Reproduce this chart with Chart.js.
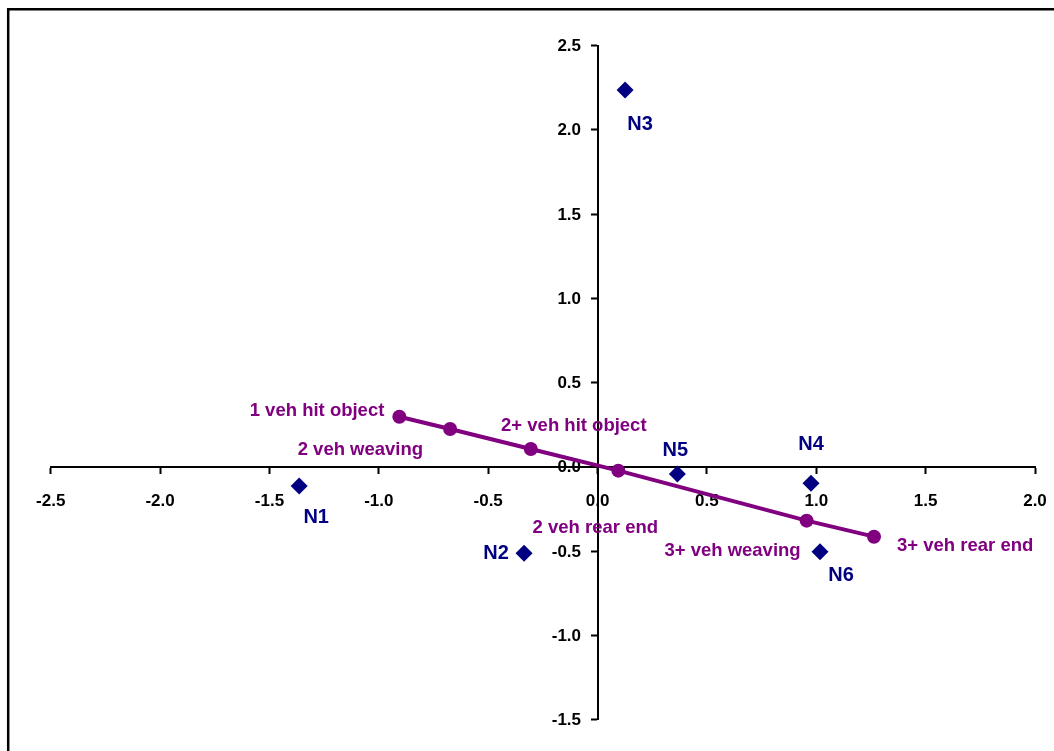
<!DOCTYPE html>
<html>
<head>
<meta charset="utf-8">
<script src="https://cdn.jsdelivr.net/npm/chart.js@4/dist/chart.umd.min.js"></script>
<style>
  html, body { margin: 0; padding: 0; background: #fff; }
  #wrap { width: 1054px; height: 751px; }
</style>
</head>
<body>
<div id="wrap"><canvas id="c" width="1054" height="751"></canvas></div>
<script>
// ---- data ----
const nodeNames = ['N1', 'N2', 'N3', 'N4', 'N5', 'N6'];
const nodeX = [-1.364, -0.336, 0.126, 0.976, 0.365, 1.017];
const nodeY = [-0.114, -0.514, 2.236, -0.098, -0.043, -0.504];

const crashTypes = ['1 veh hit object', '2 veh weaving', '2+ veh hit object', '2 veh rear end', '3+ veh weaving', '3+ veh rear end'];
const crashX = [-0.906, -0.674, -0.305, 0.095, 0.956, 1.264];
const crashY = [0.297, 0.224, 0.105, -0.023, -0.320, -0.415];

const xMin = -2.5, xMax = 2.0, yMin = -1.5, yMax = 2.5, tickStep = 0.5;

// ---- label placement styles (offsets from marker, px) ----
const nodeLabelStyle = [
  { dx: 17, dy: 32, align: 'center' },
  { dx: -28, dy: 0, align: 'center' },
  { dx: 15, dy: 35, align: 'center' },
  { dx: 0, dy: -39, align: 'center' },
  { dx: -2, dy: -24, align: 'center' },
  { dx: 21, dy: 24, align: 'center' }
];
const crashLabelStyle = [
  { dx: -15, dy: -6, align: 'right' },
  { dx: -27, dy: 21, align: 'right' },
  { dx: 43, dy: -23, align: 'center' },
  { dx: -23, dy: 57, align: 'center' },
  { dx: -6, dy: 30, align: 'right' },
  { dx: 23, dy: 9, align: 'left' }
];

const NAVY = '#000080';
const PURPLE = '#800080';
const FONT = '"Liberation Sans", Arial, Helvetica, sans-serif';
const TICK_FONT = 'bold 17px ' + FONT;

const nodePoints = nodeX.map((x, i) => ({ x: x, y: nodeY[i] }));
const crashPoints = crashX.map((x, i) => ({ x: x, y: crashY[i] }));

const fmt = v => Number(v).toFixed(1);

// y tick labels placed to the left of the centred y axis (tick length + padding)
const yLabelPlugin = {
  id: 'yLabels',
  beforeDatasetsDraw(chart) {
    const ys = chart.scales.y, xs = chart.scales.x;
    const ctx = chart.ctx;
    const axisX = xs.getPixelForValue(0);
    ctx.save();
    ctx.font = TICK_FONT;
    ctx.fillStyle = '#000';
    ctx.textAlign = 'right';
    ctx.textBaseline = 'middle';
    ys.ticks.forEach(t => {
      ctx.fillText(fmt(t.value), axisX - 16.5, ys.getPixelForValue(t.value) + 1);
    });
    ctx.restore();
  }
};

const labelPlugin = {
  id: 'pointLabels',
  afterDatasetsDraw(chart) {
    const ctx = chart.ctx;
    const sets = [
      { idx: 0, names: nodeNames, style: nodeLabelStyle, color: NAVY, font: 'bold 20px ' + FONT },
      { idx: 1, names: crashTypes, style: crashLabelStyle, color: PURPLE, font: 'bold 18.5px ' + FONT }
    ];
    ctx.save();
    sets.forEach(s => {
      const meta = chart.getDatasetMeta(s.idx);
      ctx.font = s.font;
      ctx.fillStyle = s.color;
      ctx.textBaseline = 'middle';
      meta.data.forEach((el, i) => {
        const st = s.style[i];
        ctx.textAlign = st.align;
        ctx.fillText(s.names[i], el.x + st.dx, el.y + st.dy);
      });
    });
    ctx.restore();
  }
};

const framePlugin = {
  id: 'frame',
  beforeDraw(chart) {
    const ctx = chart.ctx;
    ctx.save();
    ctx.fillStyle = '#ffffff';
    ctx.fillRect(0, 0, chart.width, chart.height);
    ctx.strokeStyle = '#000';
    ctx.lineWidth = 2.5;
    ctx.beginPath();
    ctx.moveTo(8.2, chart.height);
    ctx.lineTo(8.2, 9.2);
    ctx.lineTo(chart.width, 9.2);
    ctx.stroke();
    ctx.restore();
  }
};

const gridOpts = {
  display: true,
  drawOnChartArea: false,
  drawTicks: true,
  tickLength: 6,
  tickWidth: 2,
  tickColor: '#000'
};
const borderOpts = { display: true, color: '#000', width: 2 };
const noSidePadding = scale => {
  scale.paddingLeft = 0; scale.paddingRight = 0;
  scale.paddingTop = 0; scale.paddingBottom = 0;
};

new Chart(document.getElementById('c'), {
  type: 'scatter',
  data: {
    datasets: [
      {
        label: 'Nodes',
        data: nodePoints,
        showLine: false,
        pointStyle: 'rectRot',
        pointRadius: 8.5,
        pointHoverRadius: 8.5,
        backgroundColor: NAVY,
        borderColor: NAVY,
        borderWidth: 0
      },
      {
        label: 'Crash types',
        data: crashPoints,
        showLine: true,
        borderColor: PURPLE,
        borderWidth: 4,
        backgroundColor: PURPLE,
        pointStyle: 'circle',
        pointRadius: 7,
        pointHoverRadius: 7,
        pointBorderWidth: 0,
        pointBackgroundColor: PURPLE,
        tension: 0
      }
    ]
  },
  options: {
    responsive: false,
    animation: false,
    events: [],
    layout: { padding: { left: 50.7, right: 19, top: 45.5, bottom: 31.5 } },
    plugins: { legend: { display: false }, tooltip: { enabled: false } },
    scales: {
      x: {
        type: 'linear',
        min: xMin, max: xMax,
        position: { y: 0 },
        grid: gridOpts,
        border: borderOpts,
        afterFit: noSidePadding,
        ticks: {
          stepSize: tickStep,
          color: '#000',
          padding: 18,
          font: { family: FONT, size: 17, weight: 'bold' },
          callback: fmt
        }
      },
      y: {
        type: 'linear',
        min: yMin, max: yMax,
        position: { x: 0 },
        grid: gridOpts,
        border: borderOpts,
        afterFit: noSidePadding,
        ticks: {
          display: false,
          stepSize: tickStep,
          callback: fmt
        }
      }
    }
  },
  plugins: [framePlugin, yLabelPlugin, labelPlugin]
});
</script>
</body>
</html>
